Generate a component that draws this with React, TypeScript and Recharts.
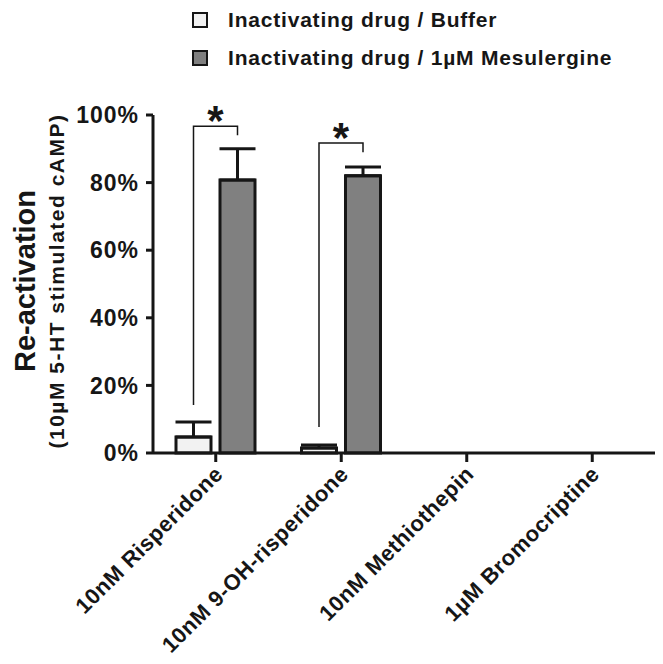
import React from 'react';
import { BarChart, Bar, XAxis, YAxis, ErrorBar, Legend, Rectangle } from 'recharts';

const categories = ['10nM Risperidone', '10nM 9-OH-risperidone', '10nM Methiothepin', '1\u00b5M Bromocriptine'];
const bufferValues = [4.7, 1.5, null, null];
const bufferErrors = [4.5, 0.9, null, null];
const mesulValues = [80.8, 82.0, null, null];
const mesulErrors = [9.2, 2.6, null, null];
const yTicks = [0, 20, 40, 60, 80, 100];
const seriesNames = ['Inactivating drug / Buffer', 'Inactivating drug / 1\u00b5M Mesulergine'];
const seriesColors = ['#f2f2f2', '#808080'];

// significance brackets (values in % units)
const bracketCats = [0, 1];
const bracketTop = [96.7, 91.7];
const bracketLeftLow = [14.2, 7.7];
const bracketRightLow = [94.0, 89.0];
const bracketStar = [101.3, 96.2];

const BAR_SIZE = 35;
const BAR_GAP = 9;

const data = categories.map((name, i) => ({
  name,
  buffer: bufferValues[i],
  bufferErr: bufferErrors[i] == null ? null : [0, bufferErrors[i]],
  mesul: mesulValues[i],
  mesulErr: mesulErrors[i] == null ? null : [0, mesulErrors[i]],
}));

const FONT = '"Liberation Sans", Arial, Helvetica, sans-serif';
const INK = '#161616';

const XTick = (props: any) => {
  const { x, y, payload } = props;
  const px = x + 3;
  const py = y + 6;
  return (
    <text x={px} y={py} transform={`rotate(-45, ${px}, ${py})`} textAnchor="end" dy="0.35em"
      fontFamily={FONT} fontWeight="bold" fontSize={22} letterSpacing={0.5} fill={INK}>
      {payload.value}
    </text>
  );
};

const YTitle = () => {
  const cy = 281;
  return (
    <g>
      <text x={35} y={cy} transform={`rotate(-90, 35, ${cy})`} textAnchor="middle"
        fontFamily={FONT} fontWeight="bold" fontSize={29} fill={INK}>Re-activation</text>
      <text x={64} y={cy} transform={`rotate(-90, 64, ${cy})`} textAnchor="middle"
        fontFamily={FONT} fontWeight="bold" fontSize={21} letterSpacing={1.5} fill={INK}>(10{'\u00b5'}M 5-HT stimulated cAMP)</text>
    </g>
  );
};

const LegendContent = () => (
  <div style={{ height: 80, position: 'relative', fontFamily: FONT }}>
    {seriesNames.map((n, i) => (
      <div key={n} style={{ position: 'absolute', left: 0, top: 7 + i * 38, height: 26, display: 'flex', alignItems: 'center' }}>
        <div style={{ width: 12, height: 12, border: `2px solid ${INK}`, background: seriesColors[i], marginRight: 20 }} />
        <span style={{ fontSize: 21, letterSpacing: 0.8, fontWeight: 'bold', color: INK, whiteSpace: 'nowrap' }}>{n}</span>
      </div>
    ))}
  </div>
);

// grey bar shape: draws the bar and, where present, the significance bracket
const MesulShape = (props: any) => {
  const { x, y, width, height, index, payload } = props;
  const rect = <Rectangle x={x} y={y} width={width} height={height} fill={seriesColors[1]} stroke={INK} strokeWidth={3} />;
  const b = bracketCats.indexOf(index);
  const v = payload ? payload.mesul : null;
  if (b < 0 || v == null || !height) return rect;
  const base = y + height;
  const k = height / v;
  const py = (val: number) => base - val * k;
  const rx = x + width / 2;
  const lx = x - BAR_GAP - width / 2;
  const top = py(bracketTop[b]);
  return (
    <g>
      {rect}
      <polyline points={`${lx},${py(bracketLeftLow[b])} ${lx},${top} ${rx},${top} ${rx},${py(bracketRightLow[b])}`}
        fill="none" stroke={INK} strokeWidth={1.5} />
      <text x={(lx + rx) / 2} y={py(bracketStar[b])} textAnchor="middle" dy="0.58em"
        fontFamily={FONT} fontWeight="bold" fontSize={42} fill={INK}>*</text>
    </g>
  );
};

export default function App() {
  return (
    <div style={{ position: 'absolute', left: 0, top: 0, width: 663, height: 664, background: '#fff' }}>
      <BarChart width={663} height={664} data={data} margin={{ top: 35, right: 8, bottom: 0, left: 0 }}
        barSize={BAR_SIZE} barGap={BAR_GAP}>
        <Legend verticalAlign="top" align="left" content={LegendContent as any}
          wrapperStyle={{ top: 0, left: 192, width: 460, height: 80 }} />
        <XAxis dataKey="name" interval={0} tick={<XTick />} tickSize={9} height={211}
          axisLine={{ stroke: INK, strokeWidth: 3 }} tickLine={{ stroke: INK, strokeWidth: 3 }} />
        <YAxis domain={[0, 100]} ticks={yTicks} width={153} tickFormatter={(v: number) => `${v}%`}
          tickSize={7} tickMargin={7}
          tick={{ fontFamily: FONT, fontWeight: 'bold', fontSize: 23, letterSpacing: 1, fill: INK }}
          axisLine={{ stroke: INK, strokeWidth: 3 }} tickLine={{ stroke: INK, strokeWidth: 3 }}
          label={{ content: YTitle as any }} />
        <Bar dataKey="buffer" fill={seriesColors[0]} stroke={INK} strokeWidth={3} isAnimationActive={false}>
          <ErrorBar dataKey="bufferErr" width={18} strokeWidth={3} stroke={INK} direction="y" />
        </Bar>
        <Bar dataKey="mesul" fill={seriesColors[1]} stroke={INK} strokeWidth={3} isAnimationActive={false}
          shape={MesulShape as any}>
          <ErrorBar dataKey="mesulErr" width={18} strokeWidth={3} stroke={INK} direction="y" />
        </Bar>
      </BarChart>
    </div>
  );
}
